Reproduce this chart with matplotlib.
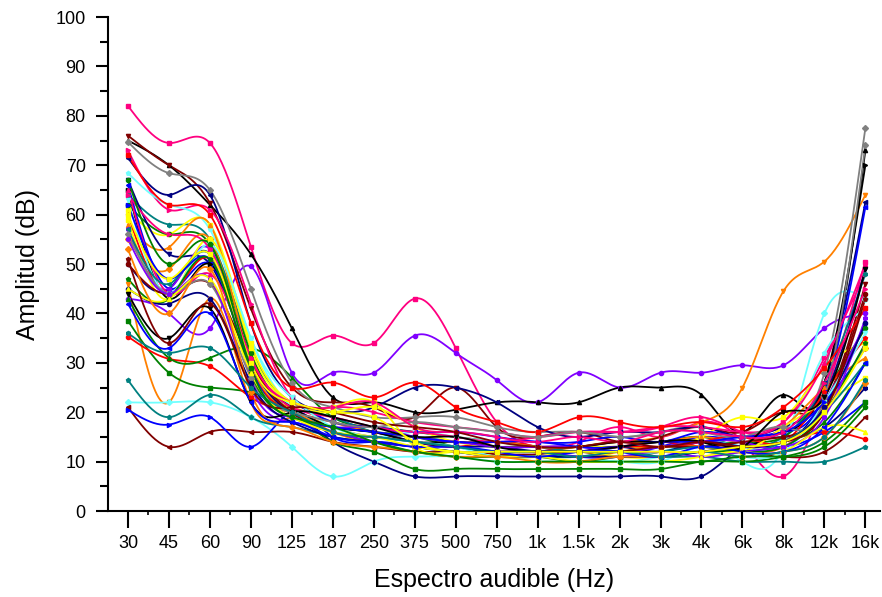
import matplotlib

matplotlib.use("Agg")
import matplotlib.pyplot as plt
import numpy as np

plt.rcParams["font.family"] = ["Liberation Sans", "DejaVu Sans"]

bands = ["30", "45", "60", "90", "125", "187", "250", "375", "500", "750",
         "1k", "1.5k", "2k", "3k", "4k", "6k", "8k", "12k", "16k"]

pink1 = [82, 74.5, 74.5, 53.5, 34, 35.5, 34, 43, 33, 18, 13, 14, 17, 15, 18, 14, 7, 23, 50.5]
purple1 = [43, 40, 37, 49.5, 28, 28, 28, 35.5, 32, 26.5, 22, 28, 25, 28, 28, 29.5, 29.5, 37, 40]
black1 = [75, 70, 62, 52, 37, 23, 22, 20, 20.5, 22, 22, 22, 25, 25, 23.5, 16, 23.5, 24, 73]
orange1 = [46, 22, 43, 22, 19, 17, 15, 14, 13, 12, 12, 13, 14, 15, 18, 25, 44.5, 50.5, 64]
cyan1 = [22, 22, 22, 19, 13, 7, 10, 11, 11, 10, 10, 10, 10, 10, 13, 10, 13, 40, 43]
maroon1 = [21, 13, 16, 16, 16, 14, 13, 12, 12, 11.5, 11.5, 12, 11, 12, 13, 12, 11, 12, 19]
blue1 = [20.5, 17.5, 19, 13, 20, 15, 14, 13, 12, 12, 12, 13, 12, 13, 15, 14, 13, 16, 22]
teal1 = [26.5, 19, 23.5, 19, 17, 15, 14, 13, 12, 11, 11, 11, 12, 11, 11, 10, 10, 10, 13]
navy1 = [50, 45, 52, 28, 20, 14, 10, 7, 7, 7, 7, 7, 7, 7, 7, 13, 15, 17, 25]
green1 = [38.5, 28, 25, 24, 20, 14, 12, 8.5, 8.5, 8.5, 8.5, 8.5, 8.5, 8.5, 10, 10, 11, 14, 22]
red1 = [35.3, 30.8, 29.3, 23, 20, 18, 16, 14, 13, 14, 13, 12, 13, 14, 13, 13, 14, 16, 14.5]
green2 = [43, 31, 31, 33, 27, 19, 17, 16, 15, 14, 13, 13, 14, 14, 15, 13, 14, 18, 30]
maroon2 = [76, 70, 62.3, 41, 25, 22, 21, 19, 25, 17, 15, 16, 14, 15, 17, 16, 20, 22, 46]
gray1 = [74.7, 68.4, 65, 45, 26, 21, 19, 19, 19, 17, 16, 16, 15, 16, 17, 15, 17, 28, 77.5]
navy2 = [71.5, 64, 64, 38, 23, 20, 21, 25, 25, 22, 17, 15, 16, 16, 17, 15, 17, 26, 62.5]
pink2 = [73, 61, 61, 42, 23, 21, 20, 18, 17, 16, 15, 16, 16, 17, 19, 16, 18, 31, 48]
cyan2 = [68.4, 62, 57, 35, 21, 17, 15, 16, 15, 14, 13, 13, 12, 12, 14, 13, 15, 32, 41]
teal2 = [64, 58, 55, 33, 22, 19, 16, 15, 14, 13, 13, 12, 13, 13, 14, 13, 15, 26, 48]
yellow1 = [61, 56, 58, 34, 22, 20, 21, 17, 14, 13, 13, 13, 13, 13, 15, 19, 19, 29, 34]
green3 = [62, 56, 54, 32, 20, 17, 16, 15, 13, 12, 12, 12, 12, 13, 13, 14, 15, 24, 37]
orange2 = [58, 53.4, 58, 30, 21, 18, 16, 15, 14, 14, 13, 13, 14, 14, 15, 14, 17, 25, 31]
navy3 = [67, 52, 50, 30, 20, 17, 16, 14, 13, 13, 12, 12, 13, 12, 14, 13, 14, 23, 49]
orange3 = [55, 49, 55, 28, 20, 16, 14, 13, 12, 12, 12, 11, 12, 13, 13, 12, 13, 21, 33]
blue2 = [66, 45, 50, 30, 22, 18, 17, 16, 16, 15, 14, 14, 15, 14, 16, 15, 16, 24, 61.5]
black2 = [65, 43, 50, 31, 21, 17, 16, 14, 14, 13, 13, 13, 14, 14, 14, 13, 16, 26, 70]
red2 = [60, 44, 51, 29, 20, 16, 15, 14, 13, 12, 12, 12, 13, 13, 14, 15, 14, 24, 35]
purple2 = [57, 45, 53, 27, 19, 17, 17, 15, 14, 13, 13, 13, 12, 13, 14, 14, 13, 22, 38]
yellow2 = [59, 43, 55, 33, 22, 21, 22, 13, 12, 11, 11, 12, 11, 11, 12, 12, 17, 22, 27]
maroon3 = [50, 44, 46, 30, 20, 16, 15, 14, 13, 12, 12, 12, 12, 13, 13, 14, 15, 21, 44]
pink3 = [65, 44, 48, 31, 21, 19, 17, 16, 15, 14, 15, 16, 16, 17, 17, 16, 18, 30, 50]
cyan3 = [63, 44, 54, 35, 23, 17, 15, 14, 13, 11, 11, 11, 10, 11, 12, 11, 12, 22, 36]
gray2 = [56, 44, 46, 27, 20, 18, 17, 18, 17, 16, 15, 16, 15, 16, 16, 15, 17, 23, 74]
teal3 = [57, 46, 52, 29, 19, 16, 15, 14, 13, 12, 12, 12, 12, 12, 13, 12, 14, 20, 30]
blue3 = [62, 47, 51, 29, 19, 17, 16, 15, 14, 14, 14, 13, 13, 14, 14, 15, 16, 22, 33]
green4 = [47, 43, 51, 28, 19, 16, 14, 12, 11, 11, 11, 10, 11, 11, 12, 12, 13, 20, 34]
purple3 = [55, 44, 47, 25, 18, 16, 14, 13, 12, 12, 12, 11, 11, 12, 11, 12, 13, 19, 39]
red3 = [72, 62, 60, 38, 25, 26, 23, 26, 21, 18, 16, 19, 18, 17, 18, 17, 21, 29, 41]
navy4 = [45, 42, 43, 26, 18, 15, 14, 13, 12, 11, 11, 11, 11, 11, 12, 13, 14, 21, 38]
yellow3 = [45, 43, 47, 28, 19, 16, 15, 13, 12, 11, 11, 10, 10, 10, 11, 12, 12, 17, 16]
black3 = [44, 35, 41, 22, 20, 19, 17, 15, 15, 13, 12, 12, 13, 14, 14, 13, 20, 23, 49]
orange4 = [53, 40, 49, 24, 17, 14, 13, 12, 11, 11, 10, 10, 11, 11, 12, 11, 12, 15, 26]
blue4 = [42, 33, 40, 22, 18, 15, 14, 13, 13, 12, 11, 12, 12, 11, 13, 12, 12, 17, 30]
pink4 = [64, 56, 53, 31, 22, 21, 22, 17, 16, 15, 14, 15, 14, 16, 16, 15, 16, 26, 45]
maroon4 = [51, 34, 42, 25, 21, 20, 18, 17, 16, 14, 13, 13, 14, 13, 14, 13, 14, 20, 43]
teal4 = [36, 32, 33, 25, 20, 16, 15, 14, 13, 12, 12, 11, 12, 11, 12, 11, 12, 15, 26.5]
yellow4 = [60, 47, 52, 30, 22, 20, 19, 14, 12, 12, 12, 12, 12, 12, 12, 13, 14, 20, 33]
green5 = [67, 50, 54, 29, 19, 17, 14, 12, 11, 10, 10, 10, 10, 10, 10, 11, 11, 13, 21]

curves = [
    (pink1, "#FF0080"), (purple1, "#8000FF"), (black1, "#000000"), (orange1, "#FF8000"),
    (cyan1, "#70FFFF"), (maroon1, "#800000"), (blue1, "#0000FF"), (teal1, "#008080"),
    (navy1, "#000080"), (green1, "#008000"), (red1, "#FF0000"), (green2, "#008000"),
    (maroon2, "#800000"), (gray1, "#808080"), (navy2, "#000080"), (pink2, "#FF0080"),
    (cyan2, "#70FFFF"), (teal2, "#008080"), (yellow1, "#FFFF00"), (green3, "#008000"),
    (orange2, "#FF8000"), (navy3, "#000080"), (orange3, "#FF8000"), (blue2, "#0000FF"),
    (black2, "#000000"), (red2, "#FF0000"), (purple2, "#8000FF"), (yellow2, "#FFFF00"),
    (maroon3, "#800000"), (pink3, "#FF0080"), (cyan3, "#70FFFF"), (gray2, "#808080"),
    (teal3, "#008080"), (blue3, "#0000FF"), (green4, "#008000"), (purple3, "#8000FF"),
    (red3, "#FF0000"), (navy4, "#000080"), (yellow3, "#FFFF00"), (black3, "#000000"),
    (orange4, "#FF8000"), (blue4, "#0000FF"), (pink4, "#FF0080"), (maroon4, "#800000"),
    (teal4, "#008080"), (yellow4, "#FFFF00"), (green5, "#008000"),
]
markers = ["s", "o", "^", "v", "D", "<", ">", "p", "h"]


def natural_spline(y, n=24):
    """Natural cubic spline through equally spaced points (Origin-style 'Spline' connect)."""
    y = np.asarray(y, float)
    m = len(y)
    A = np.zeros((m, m))
    r = np.zeros(m)
    A[0, 0] = A[-1, -1] = 1
    for i in range(1, m - 1):
        A[i, i - 1], A[i, i], A[i, i + 1] = 1, 4, 1
        r[i] = 6 * (y[i + 1] - 2 * y[i] + y[i - 1])
    M = np.linalg.solve(A, r)
    xs, ys = [], []
    for i in range(m - 1):
        t = np.linspace(0, 1, n, endpoint=(i == m - 2))
        a, b = 1 - t, t
        ys.append(a * y[i] + b * y[i + 1] + ((a**3 - a) * M[i] + (b**3 - b) * M[i + 1]) / 6)
        xs.append(i + t)
    return np.concatenate(xs), np.concatenate(ys)


x = np.arange(len(bands))

fig = plt.figure(figsize=(8.82, 5.97), dpi=100)
ax = fig.add_axes([0.1224, 0.144, 0.875, 0.8275])

for k, (vals, col) in enumerate(curves):
    xs, ys = natural_spline(vals)
    ax.plot(xs, ys, color=col, lw=1.3, zorder=2)
    ax.plot(x, vals, linestyle="none", marker=markers[k % len(markers)],
            ms=3, color=col, mec=col, zorder=3)

ax.set_xlim(-0.488, 18.35)
ax.set_ylim(0, 100)
ax.set_xticks(x)
ax.set_xticklabels(bands)
ax.set_xticks(x[:-1] + 0.5, minor=True)
ax.set_yticks(np.arange(0, 101, 10))
ax.set_yticks(np.arange(5, 100, 10), minor=True)

for side in ("top", "right"):
    ax.spines[side].set_visible(False)
for side in ("left", "bottom"):
    ax.spines[side].set_linewidth(1.5)

ax.tick_params(axis="y", which="major", direction="out", length=9, width=1.5,
               labelsize=13, pad=7)
ax.tick_params(axis="x", which="major", direction="out", length=12, width=1.5,
               labelsize=13, pad=5)
ax.tick_params(axis="y", which="minor", direction="out", length=5.5, width=1.5)
ax.tick_params(axis="x", which="minor", direction="out", length=3, width=1.2)

ax.set_xlabel("Espectro audible (Hz)", fontsize=18, labelpad=12)
ax.set_ylabel("Amplitud (dB)", fontsize=18, labelpad=11)

fig.savefig("out.png", dpi=100)
